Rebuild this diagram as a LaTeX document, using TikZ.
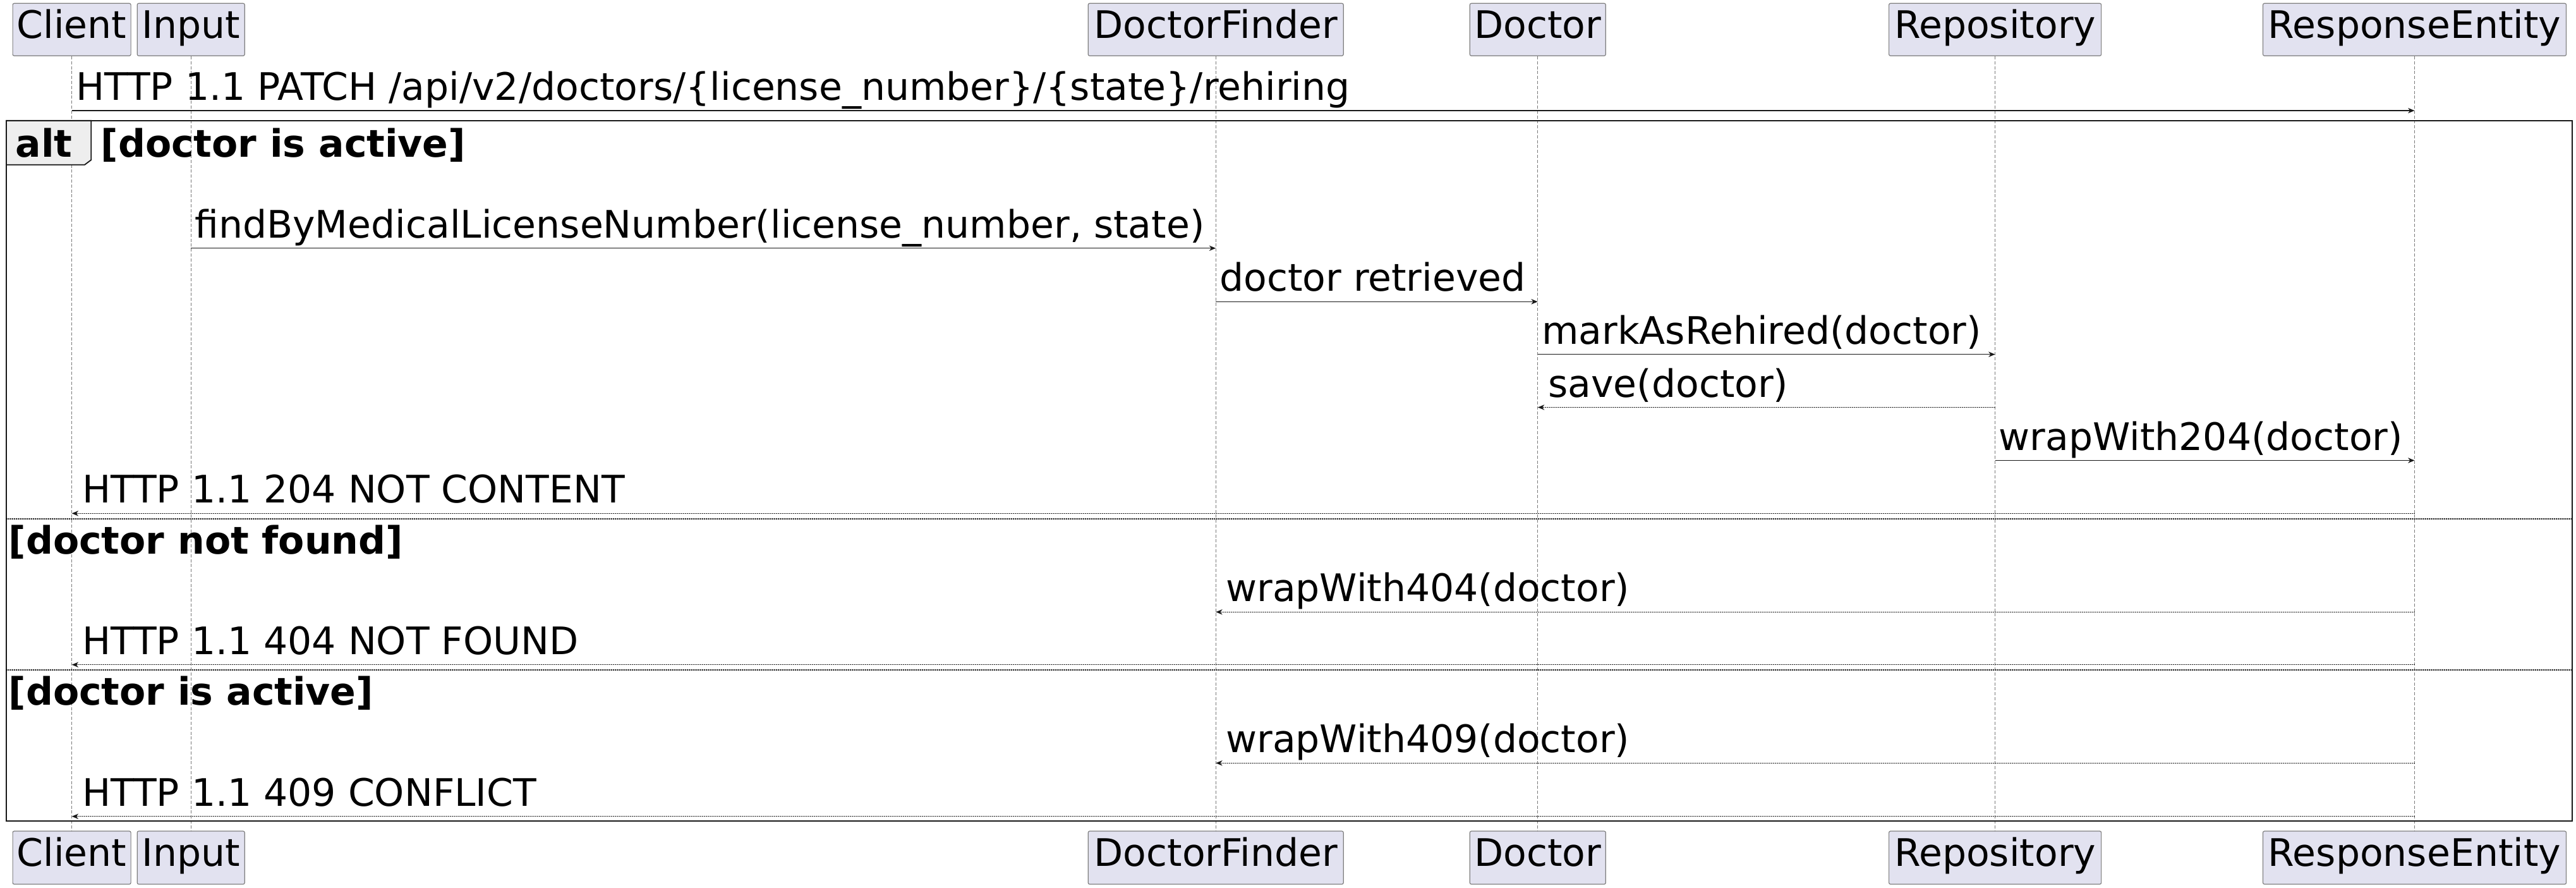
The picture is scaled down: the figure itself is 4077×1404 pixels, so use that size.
\documentclass[tikz,border=0pt]{standalone}
\usepackage{fontspec}
\setmainfont{DejaVu Sans}
\usetikzlibrary{arrows.meta}
\definecolor{partfill}{HTML}{E2E2F0}
\definecolor{partdraw}{HTML}{808080}
\definecolor{tabfill}{HTML}{EEEEEE}
\definecolor{inkc}{HTML}{181818}
\definecolor{lifec}{HTML}{7A7A7A}
\begin{document}
\begin{tikzpicture}[x=0.25pt,y=-0.25pt,
  part/.style={draw=partdraw, fill=partfill, line width=0.3pt, rounded corners=0.6pt,
    inner sep=0pt, minimum height=20.75pt,
    font=\fontsize{15pt}{18pt}\selectfont, text height=0.76em, text depth=0.095em},
  lifeline/.style={draw=lifec, line width=0.28pt, dash pattern=on 1.25pt off 0.7pt},
  call/.style={draw=inkc, line width=0.35pt, -{Stealth[length=2.6pt,width=2.1pt,inset=0.8pt]}},
  reply/.style={call, dash pattern=on 0.4pt off 0.35pt},
  lbl/.style={anchor=base west, inner sep=0pt, font=\fontsize{15pt}{18pt}\selectfont},
  grp/.style={anchor=base west, inner sep=0pt, font=\fontsize{15pt}{18pt}\selectfont\bfseries},
  framec/.style={draw=inkc, line width=0.55pt},
  sep/.style={draw=inkc, line width=0.35pt, dash pattern=on 0.4pt off 0.35pt},
  tabc/.style={draw=inkc, fill=tabfill, line width=0.45pt}
]
\useasboundingbox (0,0) rectangle (4077,1404);

% participants (top)
\node[part, minimum width=46.75pt] (pC) at (113.6,46.8) {Client};
\node[part, minimum width=42.5pt]  (pI) at (302.2,46.8) {Input};
\node[part, minimum width=101pt]   (pF) at (1924.2,46.8) {DoctorFinder};
\node[part, minimum width=53.75pt] (pD) at (2433.8,46.8) {Doctor};
\node[part, minimum width=84pt]    (pR) at (3157.6,46.8) {Repository};
\node[part, minimum width=120pt]   (pE) at (3821.5,46.8) {ResponseEntity};
% participants (bottom)
\node[part, minimum width=46.75pt, minimum height=21pt] (bC) at (113.6,1357) {Client};
\node[part, minimum width=42.5pt, minimum height=21pt]  (bI) at (302.2,1357) {Input};
\node[part, minimum width=101pt, minimum height=21pt]   (bF) at (1924.2,1357) {DoctorFinder};
\node[part, minimum width=53.75pt, minimum height=21pt] (bD) at (2433.8,1357) {Doctor};
\node[part, minimum width=84pt, minimum height=21pt]    (bR) at (3157.6,1357) {Repository};
\node[part, minimum width=120pt, minimum height=21pt]   (bE) at (3821.5,1357) {ResponseEntity};

% lifelines
\foreach \p in {C,I,F,D,R,E}{
  \draw[lifeline] (p\p.south) -- (b\p.north);
}

% alt frame
\draw[tabc] (10,190.7) -- (144.3,190.7) -- (144.3,253) -- (134,260.7) -- (10,260.7) -- cycle;
\draw[framec] (10,190.7) rectangle (4071,1299);
\draw[sep] (10,821) -- (4071,821);
\draw[sep] (10,1060) -- (4071,1060);
\node[grp] (galt) at (24,248) {alt};
\node[grp] (g1) at (159,248) {[doctor is active]};
\node[grp] (g2) at (13,876) {[doctor not found]};
\node[grp] (g3) at (13,1115) {[doctor is active]};

% message rows
\coordinate (r1) at (0,175);
\coordinate (r2) at (0,392.7);
\coordinate (r3) at (0,477.3);
\coordinate (r4) at (0,560.7);
\coordinate (r5) at (0,644.5);
\coordinate (r6) at (0,728.5);
\coordinate (r7) at (0,812.3);
\coordinate (r8) at (0,968.3);
\coordinate (r9) at (0,1051.7);
\coordinate (r10) at (0,1207.3);
\coordinate (r11) at (0,1291.7);

\draw[call]  (pC |- r1) -- (pE |- r1);
\draw[call]  (pI |- r2) -- (pF |- r2);
\draw[call]  (pF |- r3) -- (pD |- r3);
\draw[call]  (pD |- r4) -- (pR |- r4);
\draw[reply] (pR |- r5) -- (pD |- r5);
\draw[call]  (pR |- r6) -- (pE |- r6);
\draw[reply] (pE |- r7) -- (pC |- r7);
\draw[reply] (pE |- r8) -- (pF |- r8);
\draw[reply] (pE |- r9) -- (pC |- r9);
\draw[reply] (pE |- r10) -- (pF |- r10);
\draw[reply] (pE |- r11) -- (pC |- r11);

\node[lbl] (m1) at (119.6,158.5) {HTTP 1.1 PATCH /api/v2/doctors/\{license\_number\}/\{state\}/rehiring};
\node[lbl] (m2) at (307.4,376.2) {findByMedicalLicenseNumber(license\_number, state)};
\node[lbl] (m3) at (1929.5,460.8) {doctor retrieved};
\node[lbl] (m4) at (2439.5,544.2) {markAsRehired(doctor)};
\node[lbl] (m5) at (2449.5,628) {save(doctor)};
\node[lbl] (m6) at (3163,712) {wrapWith204(doctor)};
\node[lbl] (m7) at (129.6,795.8) {HTTP 1.1 204 NOT CONTENT};
\node[lbl] (m8) at (1939.5,951.8) {wrapWith404(doctor)};
\node[lbl] (m9) at (129.6,1035.2) {HTTP 1.1 404 NOT FOUND};
\node[lbl] (m10) at (1939.5,1190.8) {wrapWith409(doctor)};
\node[lbl] (m11) at (129.6,1275.2) {HTTP 1.1 409 CONFLICT};
\end{tikzpicture}
\end{document}
